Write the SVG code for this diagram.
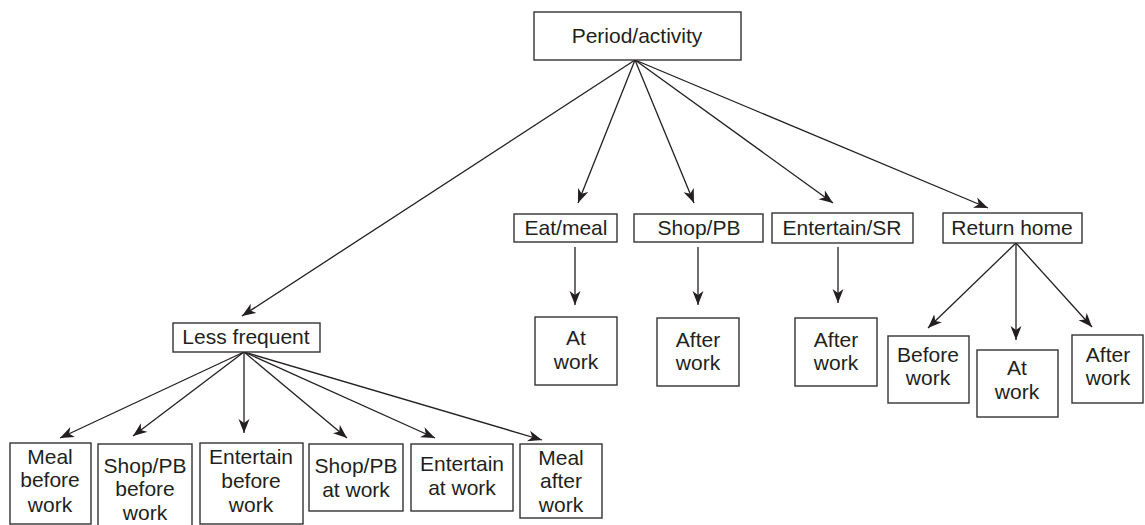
<svg xmlns="http://www.w3.org/2000/svg" width="1145" height="525" viewBox="0 0 1145 525">
<style>
.box{fill:#fff;stroke:#333;stroke-width:1.4}
.t{font-family:"Liberation Sans",Arial,sans-serif;font-size:21px;fill:#231f20;text-anchor:middle}
.c{stroke:#231f20;stroke-width:1.3;fill:none;marker-end:url(#ah)}
</style>
<defs>
<marker id="ah" markerUnits="userSpaceOnUse" markerWidth="15" markerHeight="12" refX="14" refY="5.5" orient="auto">
<path d="M0,0 L14,5.5 L0,11 L4,5.5 z" fill="#231f20"/>
</marker>
</defs>
<rect width="1145" height="525" fill="#fff"/>
<g id="connectors">
<line class="c" x1="635" y1="60" x2="242" y2="316"/>
<line class="c" x1="635" y1="60" x2="578" y2="203"/>
<line class="c" x1="635" y1="60" x2="694" y2="203"/>
<line class="c" x1="635" y1="60" x2="833" y2="203"/>
<line class="c" x1="635" y1="60" x2="988" y2="208"/>
<line class="c" x1="575" y1="247" x2="575" y2="305"/>
<line class="c" x1="698" y1="247" x2="698" y2="305"/>
<line class="c" x1="838" y1="247" x2="838" y2="303"/>
<line class="c" x1="1016" y1="243" x2="928" y2="328"/>
<line class="c" x1="1016" y1="243" x2="1016" y2="340"/>
<line class="c" x1="1016" y1="243" x2="1092" y2="327"/>
<line class="c" x1="244" y1="352" x2="60" y2="438"/>
<line class="c" x1="244" y1="352" x2="133" y2="436"/>
<line class="c" x1="244" y1="352" x2="244" y2="433"/>
<line class="c" x1="244" y1="352" x2="347" y2="438"/>
<line class="c" x1="244" y1="352" x2="435" y2="438"/>
<line class="c" x1="244" y1="352" x2="542" y2="440"/>
</g>
<g id="n-period"><rect class="box" x="534" y="12" width="207" height="48"/><text class="t" x="637" y="43">Period/activity</text></g>
<g id="n-less"><rect class="box" x="173" y="323" width="147" height="29"/><text class="t" x="246" y="344">Less frequent</text></g>
<g id="n-eat"><rect class="box" x="514" y="214" width="103" height="28"/><text class="t" x="566" y="235">Eat/meal</text></g>
<g id="n-shop"><rect class="box" x="634" y="214" width="129" height="28"/><text class="t" x="699" y="235">Shop/PB</text></g>
<g id="n-ent"><rect class="box" x="772" y="213" width="141" height="30"/><text class="t" x="842" y="235">Entertain/SR</text></g>
<g id="n-ret"><rect class="box" x="943" y="213" width="139" height="30"/><text class="t" x="1012" y="235">Return home</text></g>
<g id="n-eat-at"><rect class="box" x="535" y="317" width="82" height="68"/><text class="t" x="576" y="345">At</text><text class="t" x="576" y="369">work</text></g>
<g id="n-shop-after"><rect class="box" x="657" y="318" width="82" height="68"/><text class="t" x="698" y="347">After</text><text class="t" x="698" y="370">work</text></g>
<g id="n-ent-after"><rect class="box" x="795" y="318" width="82" height="68"/><text class="t" x="836" y="347">After</text><text class="t" x="836" y="370">work</text></g>
<g id="n-ret-before"><rect class="box" x="888" y="336" width="81" height="67"/><text class="t" x="928" y="362">Before</text><text class="t" x="928" y="385">work</text></g>
<g id="n-ret-at"><rect class="box" x="977" y="350" width="81" height="67"/><text class="t" x="1017" y="375">At</text><text class="t" x="1017" y="399">work</text></g>
<g id="n-ret-after"><rect class="box" x="1072" y="335" width="71" height="68"/><text class="t" x="1108" y="362">After</text><text class="t" x="1108" y="385">work</text></g>
<g id="n-meal-before"><rect class="box" x="10" y="443" width="81" height="81"/><text class="t" x="50" y="464">Meal</text><text class="t" x="50" y="487">before</text><text class="t" x="50" y="512">work</text></g>
<g id="n-shop-before"><rect class="box" x="98" y="444" width="94" height="84"/><text class="t" x="145" y="473">Shop/PB</text><text class="t" x="145" y="496">before</text><text class="t" x="145" y="520">work</text></g>
<g id="n-ent-before"><rect class="box" x="200" y="443" width="103" height="81"/><text class="t" x="251" y="464">Entertain</text><text class="t" x="251" y="488">before</text><text class="t" x="251" y="512">work</text></g>
<g id="n-shop-at"><rect class="box" x="309" y="444" width="94" height="67"/><text class="t" x="356" y="473">Shop/PB</text><text class="t" x="356" y="497">at work</text></g>
<g id="n-ent-at"><rect class="box" x="411" y="444" width="102" height="67"/><text class="t" x="462" y="471">Entertain</text><text class="t" x="462" y="495">at work</text></g>
<g id="n-meal-after"><rect class="box" x="520" y="444" width="82" height="74"/><text class="t" x="561" y="465">Meal</text><text class="t" x="561" y="488">after</text><text class="t" x="561" y="512">work</text></g>
</svg>
